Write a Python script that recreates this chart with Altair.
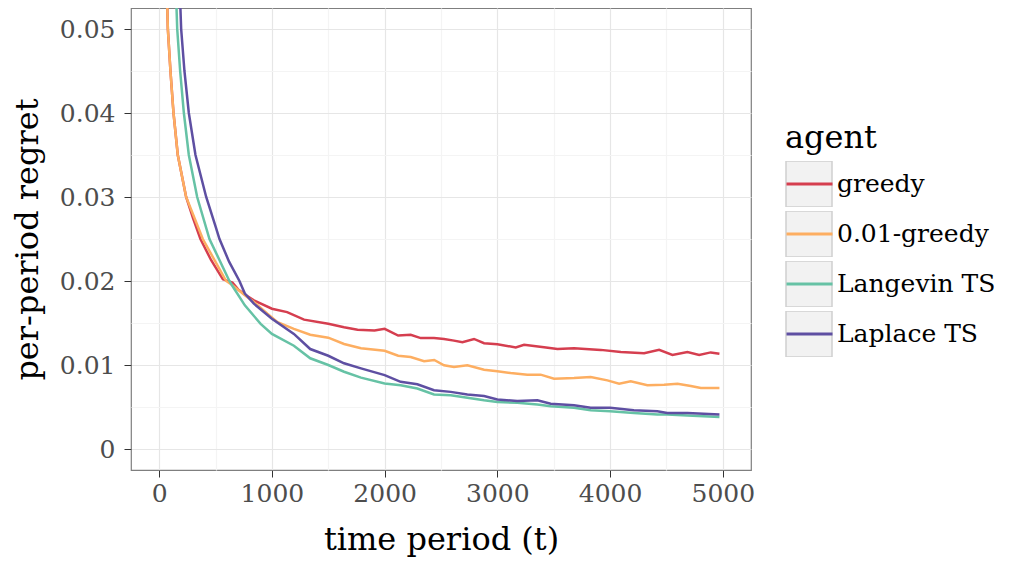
import altair as alt
import pandas as pd

agents = ["greedy", "0.01-greedy", "Langevin TS", "Laplace TS"]
colors = ["#d53e4f", "#fdae61", "#66c2a5", "#5e4fa2"]
box_keys = ["box1", "box2", "box3", "box4"]

greedy_t = [30, 50, 77, 100, 127, 165, 239, 300, 366, 460, 565, 650, 700, 760, 840, 1000,
            1135, 1285, 1500, 1640, 1760, 1910, 2000, 2120, 2231, 2320, 2438, 2527, 2615,
            2690, 2793, 2882, 3000, 3163, 3237, 3414, 3533, 3680, 3917, 4095, 4302, 4435,
            4553, 4686, 4790, 4893, 4970]
greedy_v = [0.085, 0.064, 0.050, 0.045, 0.040, 0.035, 0.030, 0.0275, 0.025, 0.0225, 0.0202,
            0.0198, 0.0190, 0.0184, 0.0177, 0.0167, 0.0163, 0.0154, 0.0149, 0.0145, 0.0142,
            0.0141, 0.0143, 0.0135, 0.0136, 0.0132, 0.0132, 0.0131, 0.0129, 0.0127, 0.0131,
            0.0126, 0.01246, 0.0121, 0.0124, 0.0121, 0.0119, 0.0120, 0.0118, 0.01155, 0.0114,
            0.0118, 0.0112, 0.01155, 0.0112, 0.0115, 0.01135]

eps_t = [30, 50, 77, 100, 127, 165, 239, 387, 594, 650, 760, 840, 960, 1050, 1195, 1340,
         1500, 1640, 1790, 2000, 2120, 2231, 2350, 2440, 2527, 2615, 2734, 2882,
         3000, 3118, 3266, 3384, 3503, 3680, 3828, 3976, 4080, 4183, 4331, 4479, 4598, 4716,
         4805, 4970]
eps_v = [0.085, 0.064, 0.050, 0.045, 0.040, 0.035, 0.030, 0.025, 0.020, 0.0195, 0.0183,
         0.0175, 0.0161, 0.0151, 0.0143, 0.0136, 0.01325, 0.0125, 0.0120, 0.0117, 0.0111,
         0.01095, 0.01044, 0.0106, 0.00996, 0.00976, 0.00996, 0.00944,
         0.00925, 0.00905, 0.00885, 0.00885, 0.00837, 0.00845, 0.00857, 0.00817, 0.00778,
         0.00806, 0.00758, 0.00766, 0.00778, 0.0075, 0.00726, 0.00726]

langevin_t = [100, 130, 160, 186, 219, 263, 337, 446, 623, 650, 760, 900, 1000, 1195, 1340,
              1500, 1640, 1790, 2000, 2142, 2290, 2438, 2586, 2734, 2882, 3000, 3177, 3355,
              3473, 3680, 3828, 4000, 4211, 4419, 4507, 4686, 4970]
langevin_v = [0.085, 0.062, 0.050, 0.045, 0.040, 0.035, 0.030, 0.025, 0.020, 0.0194, 0.0171,
              0.0149, 0.0137, 0.0123, 0.0108, 0.0100, 0.0092, 0.0085, 0.0078, 0.0076, 0.0072,
              0.0065, 0.0064, 0.0061, 0.0058, 0.0056, 0.0055, 0.0053, 0.0051, 0.0049, 0.0046,
              0.0045, 0.0043, 0.0041, 0.0041, 0.0040, 0.0038]

laplace_t = [120, 160, 195, 224, 263, 322, 417, 500, 535, 620, 712, 760, 840, 1000, 1195,
             1340, 1500, 1640, 1790, 2000, 2142, 2290, 2438, 2586, 2734, 2882, 3000, 3177,
             3355, 3473, 3680, 3828, 4000, 4211, 4419, 4507, 4686, 4970]
laplace_v = [0.085, 0.063, 0.050, 0.045, 0.040, 0.035, 0.030, 0.0265, 0.025, 0.0223, 0.0200,
             0.0185, 0.0173, 0.0155, 0.0137, 0.0119, 0.0111, 0.0102, 0.0096, 0.0088, 0.0080,
             0.0077, 0.0070, 0.0068, 0.0065, 0.0063, 0.0059, 0.0057, 0.0058, 0.0054, 0.0052,
             0.0049, 0.0049, 0.0046, 0.0045, 0.0043, 0.0043, 0.0041]

x_ticks = [0, 500, 1000, 1500, 2000, 2500, 3000, 3500, 4000, 4500, 5000]
y_ticks = [0, 0.005, 0.01, 0.015, 0.02, 0.025, 0.03, 0.035, 0.04, 0.045, 0.05]

rows = []
for name, box, ts, vs in [("greedy", "box1", greedy_t, greedy_v),
                          ("0.01-greedy", "box2", eps_t, eps_v),
                          ("Langevin TS", "box3", langevin_t, langevin_v),
                          ("Laplace TS", "box4", laplace_t, laplace_v)]:
    for t, v in zip(ts, vs):
        rows.append({"t": t, "regret": v, "agent": name, "box": box})
df = pd.DataFrame(rows)

FONT = "DejaVu Serif"

x_axis = alt.Axis(
    values=x_ticks,
    labelExpr="datum.value % 1000 != 0 ? '' : format(datum.value, 'd')",
    gridColor={"condition": {"test": "datum.value % 1000 != 0", "value": "#f4f4f4"}, "value": "#e6e6e6"},
    tickColor={"condition": {"test": "datum.value % 1000 != 0", "value": "transparent"}, "value": "#333333"},
    tickSize=7, labelPadding=4, titlePadding=18, domain=False,
)
y_axis = alt.Axis(
    values=y_ticks,
    labelExpr="round(datum.value * 1000) % 10 != 0 ? '' : (datum.value == 0 ? '0' : format(datum.value, '.2f'))",
    gridColor={"condition": {"test": "round(datum.value * 1000) % 10 != 0", "value": "#f4f4f4"}, "value": "#e6e6e6"},
    tickColor={"condition": {"test": "round(datum.value * 1000) % 10 != 0", "value": "transparent"}, "value": "#333333"},
    tickSize=7, labelPadding=9, titlePadding=15, domain=False,
)

legend_common = dict(
    orient="none", legendX=654, legendY=115, padding=0,
    symbolSize=2116, clipHeight=46, rowPadding=4, labelOffset=3, titlePadding=6,
)

lines = alt.Chart(df).mark_line(strokeWidth=2.5, clip=True).encode(
    x=alt.X("t:Q", title="time period (t)",
            scale=alt.Scale(domain=[-250, 5250], nice=False, zero=False), axis=x_axis),
    y=alt.Y("regret:Q", title="per-period regret",
            scale=alt.Scale(domain=[-0.0025, 0.0525], nice=False, zero=False), axis=y_axis),
    stroke=alt.Stroke("agent:N", scale=alt.Scale(domain=agents, range=colors),
                      legend=alt.Legend(title="agent", symbolType="stroke", symbolStrokeWidth=3,
                                        zindex=2, **legend_common)),
)

boxes = alt.Chart(df).transform_filter("datum.t < 0").mark_square(
    filled=True, stroke="#d0d0d0", strokeWidth=1.5, opacity=1
).encode(
    fill=alt.Fill("box:N", scale=alt.Scale(domain=box_keys, range=["#f2f2f2"] * 4),
                  legend=alt.Legend(title="agent", symbolType="square", symbolStrokeWidth=1.5,
                                    symbolStrokeColor="#d0d0d0", symbolFillColor="#f2f2f2",
                                    titleOpacity=0, labelExpr="''", zindex=1,
                                    **legend_common)),
)

chart = alt.layer(boxes, lines).properties(
    width=620, height=462,
    padding={"left": 3, "top": 0, "right": 5, "bottom": 5},
).configure_view(
    stroke="#7f7f7f", strokeWidth=1.2,
).configure_axis(
    labelFont=FONT, titleFont=FONT, labelFontSize=25, titleFontSize=32,
    labelColor="#4d4d4d", titleColor="#000000", titleFontWeight="normal",
    gridWidth=1.2,
).configure_legend(
    labelFont=FONT, titleFont=FONT, labelFontSize=25, titleFontSize=32,
    labelColor="#000000", titleColor="#000000", titleFontWeight="normal",
)

chart.save("out.html", embed_options={"renderer": "svg", "actions": False})
